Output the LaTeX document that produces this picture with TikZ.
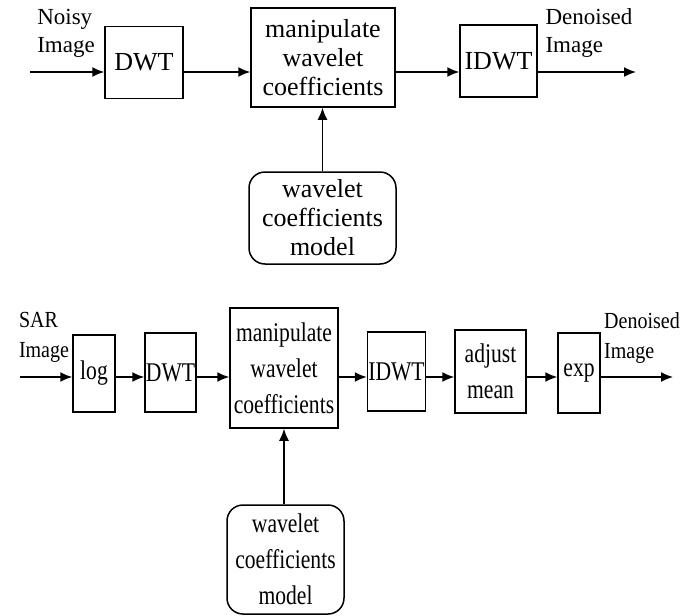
\documentclass[tikz,border=0pt]{standalone}
\usepackage{fontspec}
\setmainfont{Liberation Serif}
\newfontfamily\narrowfont[FakeStretch=0.8]{Liberation Serif}
\newfontfamily\lblfont[FakeStretch=0.87]{Liberation Serif}
\usetikzlibrary{arrows.meta}

\begin{document}
\begin{tikzpicture}[x=1pt,y=-1pt,line width=1.5pt,
    blk/.style={draw,inner sep=0pt,align=center},
    mdl/.style={blk,rounded corners=16pt},
    lbl/.style={inner sep=0pt,align=left},
    arr/.style={-{Latex[length=12pt,width=10pt]}},
    toptxt/.style={font=\fontsize{26}{29}\selectfont},
    toplbl/.style={font=\fontsize{23}{28}\selectfont},
    bottxt/.style={font=\narrowfont\fontsize{27}{36}\selectfont},
    botlbl/.style={font=\lblfont\fontsize{23}{30}\selectfont}]
      \useasboundingbox (0,0) rectangle (694,616);

      % plain denoising chain
      \draw (66,33) node[lbl,toplbl] (noisy) {Noisy\\Image};
      \draw (589,33) node[lbl,toplbl] (den1) {Denoised\\Image};
      \draw (144,62.5) node[blk,toptxt,minimum width=78pt,minimum height=72pt] (dwt1) {DWT};
      \draw (323,57.5) node[blk,toptxt,minimum width=144pt,minimum height=99pt] (manip1) {manipulate\\wavelet\\coefficients};
      \draw (498.5,61) node[blk,toptxt,minimum width=77pt,minimum height=72pt] (idwt1) {IDWT};
      \draw (322.5,218) node[mdl,toptxt,minimum width=147pt,minimum height=92pt] (model1) {wavelet\\coefficients\\model};
      \coordinate (in1) at (30,72);
      \coordinate (out1) at (636,72);

      \draw[arr] (in1) -- (in1 -| dwt1.west);
      \draw[arr] (dwt1.east |- in1) -- (manip1.west |- in1);
      \draw[arr] (manip1.east |- in1) -- (idwt1.west |- in1);
      \draw[arr] (idwt1.east |- in1) -- (out1);
      \draw[arr] (model1.north) -- (model1.north |- manip1.south);

      % SAR chain
      \draw (44,337) node[lbl,botlbl] (sar) {SAR\\Image};
      \draw (642,338) node[lbl,botlbl] (den2) {Denoised\\Image};
      \draw (94,373.5) node[blk,bottxt,minimum width=42pt,minimum height=77pt] (log) {log};
      \draw (170.5,372.5) node[blk,bottxt,minimum width=51pt,minimum height=79pt] (dwt2) {DWT};
      \draw (284,368) node[blk,bottxt,minimum width=108pt,minimum height=120pt] (manip2) {manipulate\\wavelet\\coefficients};
      \draw (396.5,371.5) node[blk,bottxt,minimum width=58pt,minimum height=79pt] (idwt2) {IDWT};
      \draw (490.5,371.5) node[blk,bottxt,minimum width=71pt,minimum height=83pt] (adj) {adjust\\mean};
      \draw (579,373) node[blk,bottxt,minimum width=42pt,minimum height=80pt] (exp) {exp};
      \draw (285.5,559.5) node[mdl,bottxt,minimum width=117pt,minimum height=109pt] (model2) {wavelet\\coefficients\\model};
      \coordinate (in2) at (20,377);
      \coordinate (out2) at (673,377);

      \draw[arr] (in2) -- (in2 -| log.west);
      \draw[arr] (log.east |- in2) -- (dwt2.west |- in2);
      \draw[arr] (dwt2.east |- in2) -- (manip2.west |- in2);
      \draw[arr] (manip2.east |- in2) -- (idwt2.west |- in2);
      \draw[arr] (idwt2.east |- in2) -- (adj.west |- in2);
      \draw[arr] (adj.east |- in2) -- (exp.west |- in2);
      \draw[arr] (exp.east |- in2) -- (out2);
      \draw[arr] (model2.north -| manip2.south) -- (manip2.south);
    \end{tikzpicture}
\end{document}
